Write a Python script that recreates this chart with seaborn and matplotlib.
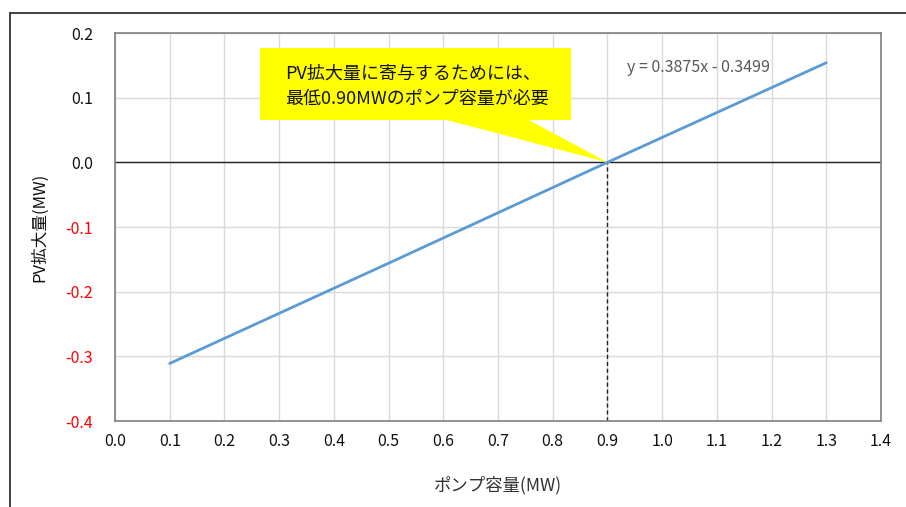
import matplotlib
matplotlib.use("Agg")
import matplotlib.pyplot as plt
from matplotlib.patches import Polygon, Rectangle
from matplotlib.lines import Line2D
import seaborn as sns
import pandas as pd

# Pump capacity (MW) vs. PV expansion (MW)
pump_capacity = [0.1, 0.5, 0.9, 1.3]
pv_expansion = [-0.311, -0.156, 0.0, 0.154]

x_ticks = [0.0, 0.1, 0.2, 0.3, 0.4, 0.5, 0.6, 0.7, 0.8, 0.9, 1.0, 1.1, 1.2, 1.3, 1.4]
y_ticks = [0.2, 0.1, 0.0, -0.1, -0.2, -0.3, -0.4]

threshold = 0.9
equation = "y = 0.3875x - 0.3499"
callout = "PV拡大量に寄与するためには、\n最低0.90MWのポンプ容量が必要"

sns.set_theme(style="white")
plt.rcParams["font.family"] = ["Noto Sans CJK JP", "DejaVu Sans"]

df = pd.DataFrame({"pump": pump_capacity, "pv": pv_expansion})

fig = plt.figure(figsize=(9.06, 5.07), dpi=100)
ax = fig.add_axes([115 / 906, 1 - 421 / 507, (881 - 115) / 906, (421 - 33) / 507])

# outer chart frame
fig.add_artist(Line2D([9.5 / 906, 9.5 / 906], [0, 1 - 12.5 / 507],
                      transform=fig.transFigure, color="#222222", lw=1.2))
fig.add_artist(Line2D([9.5 / 906, 1], [1 - 12.5 / 507, 1 - 12.5 / 507],
                      transform=fig.transFigure, color="#222222", lw=1.2))

ax.set_xlim(0.0, 1.4)
ax.set_ylim(-0.4, 0.2)
ax.set_xticks(x_ticks)
ax.set_yticks(y_ticks)
ax.set_xticklabels([f"{v:.1f}" for v in x_ticks])
ax.set_yticklabels([f"{v:.1f}" for v in y_ticks])
ax.grid(True, color="#d9d9d9", lw=1.0)
ax.set_axisbelow(True)
for s in ax.spines.values():
    s.set_color("#7f7f7f")
    s.set_linewidth(1.2)

ax.axhline(0.0, color="#222222", lw=1.0, zorder=2)
ax.plot([threshold, threshold], [-0.4, 0.0], ls=(0, (3, 2)), color="#222222", lw=1.0, zorder=2)

sns.lineplot(data=df, x="pump", y="pv", ax=ax, color="#5B9BD5", lw=2.0, zorder=3)

ax.tick_params(axis="both", length=0, labelsize=11.5)
ax.tick_params(axis="x", pad=9)
ax.tick_params(axis="y", pad=16)
for lbl, v in zip(ax.get_yticklabels(), y_ticks):
    lbl.set_color("#ff0000" if v < 0 else "#111111")
for lbl in ax.get_xticklabels():
    lbl.set_color("#111111")

ax.set_xlabel("ポンプ容量(MW)", fontsize=12.5, color="#333333", labelpad=18)
ax.set_ylabel("PV拡大量(MW)", fontsize=12, color="#111111", labelpad=12)

# callout box with pointer
to_data = ax.transData.inverted()
def px(xp, yp):
    return to_data.transform(fig.transFigure.transform((xp / 906, 1 - yp / 507)))

box_ll = px(260, 120)
box_ur = px(571, 48)
ax.add_patch(Rectangle(box_ll, box_ur[0] - box_ll[0], box_ur[1] - box_ll[1],
                       facecolor="#ffff00", edgecolor="none", zorder=4))
ax.add_patch(Polygon([px(443, 119), px(527, 119), (threshold, 0.0)],
                     closed=True, facecolor="#ffff00", edgecolor="none", zorder=4))
tp = px(285, 86)
ax.text(tp[0], tp[1], callout, fontsize=13, color="#111111", va="center", ha="left",
        linespacing=1.5, zorder=5)

ep = px(627, 67)
ax.text(ep[0], ep[1], equation, fontsize=11.5, color="#595959", va="center", ha="left", zorder=5)

fig.savefig("out.png", dpi=100, facecolor="white")
